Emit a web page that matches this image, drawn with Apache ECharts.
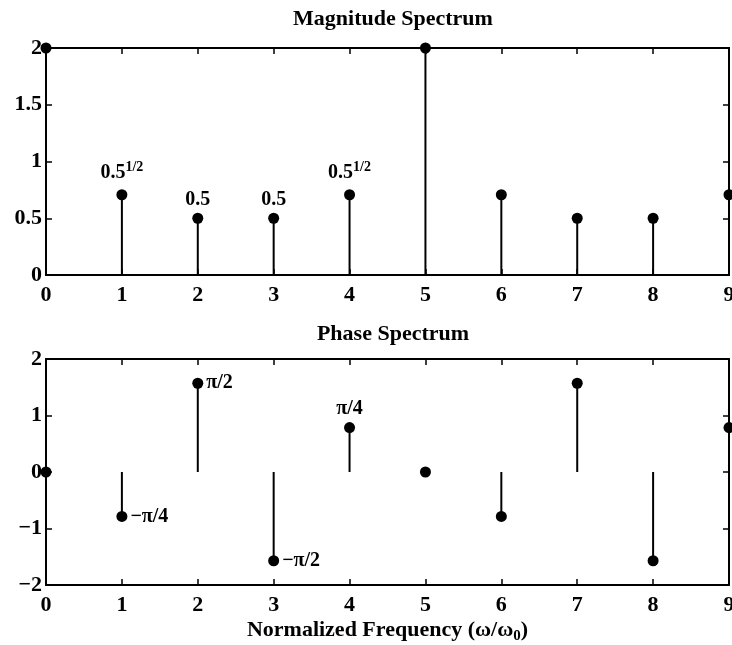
<!DOCTYPE html>
<html>
<head>
<meta charset="utf-8">
<script src="https://cdn.jsdelivr.net/npm/echarts@6/dist/echarts.min.js"></script>
<style>
html, body { margin: 0; padding: 0; background: #fff; }
#chart { width: 732px; height: 645px; }
</style>
</head>
<body>
<div id="chart"></div>
<script>
// data
var freq = [0, 1, 2, 3, 4, 5, 6, 7, 8, 9];
var magnitude = [2, 0.7071, 0.5, 0.5, 0.7071, 2, 0.7071, 0.5, 0.5, 0.7071];
var phase = [0, -0.7854, 1.5708, -1.5708, 0.7854, 0, -0.7854, 1.5708, -1.5708, 0.7854];
var magNotes = ['', '0.5^1/2', '0.5', '0.5', '0.5^1/2', '', '', '', '', ''];
var phaseNotes = ['', '\u2212\u03c0/4', '\u03c0/2', '\u2212\u03c0/2', '\u03c0/4', '', '', '', '', ''];
var freqTicks = ['0', '1', '2', '3', '4', '5', '6', '7', '8', '9'];
var magTicks = ['0', '0.5', '1', '1.5', '2'];
var phaseTicks = ['\u22122', '\u22121', '0', '1', '2'];

var FONT = 'Liberation Serif';
var INK = '#000';
var chart = echarts.init(document.getElementById('chart'));

function pairs(ys) {
    return freq.map(function (x, i) { return [x, ys[i]]; });
}

// stem line from 0 up (or down) to the value
function stem(gridIdx, ys) {
    return {
        type: 'custom',
        xAxisIndex: gridIdx * 2,
        yAxisIndex: gridIdx * 2,
        clip: false,
        silent: true,
        data: pairs(ys),
        renderItem: function (params, api) {
            var a = api.coord([api.value(0), 0]);
            var b = api.coord([api.value(0), api.value(1)]);
            return {
                type: 'line',
                shape: { x1: a[0], y1: a[1], x2: b[0], y2: b[1] },
                style: { stroke: INK, lineWidth: 2 }
            };
        }
    };
}

function heads(gridIdx, ys, notes, pos) {
    return {
        type: 'scatter',
        xAxisIndex: gridIdx * 2,
        yAxisIndex: gridIdx * 2,
        clip: false,
        symbol: 'circle',
        symbolSize: 11,
        itemStyle: { color: INK, opacity: 1 },
        data: pairs(ys).map(function (p, i) {
            var txt = notes[i];
            return {
                value: p,
                label: {
                    show: txt !== '',
                    position: pos[i] || 'top',
                    distance: 3,
                    formatter: txt.replace(/\^(.*)$/, '{sup|$1}'),
                    fontFamily: FONT,
                    fontSize: 20,
                    fontWeight: 'bold',
                    color: INK,
                    rich: {
                        sup: { fontFamily: FONT, fontSize: 14, fontWeight: 'bold', color: INK, padding: [0, 0, 12, 0] }
                    }
                }
            };
        })
    };
}

var tickStyle = { show: true, inside: true, length: 6, lineStyle: { color: INK, width: 1.5 } };

function xAx(gridIdx, position, labels, withName) {
    var ax = {
        type: 'value',
        gridIndex: gridIdx,
        position: position,
        min: 0, max: 9, interval: 1,
        axisLine: { show: false, onZero: false },
        axisTick: tickStyle,
        splitLine: { show: false },
        axisLabel: {
            show: !!labels,
            margin: 9,
            fontFamily: FONT, fontSize: 22, fontWeight: 'bold', color: INK,
            formatter: function (v) { return labels ? labels[Math.round(v)] : ''; }
        }
    };
    if (withName) {
        ax.name = 'Normalized Frequency (\u03c9/\u03c9{sub|0})';
        ax.nameLocation = 'middle';
        ax.nameGap = 32;
        ax.nameTextStyle = {
            fontFamily: FONT, fontSize: 22, fontWeight: 'bold', color: INK,
            rich: { sub: { fontFamily: FONT, fontSize: 15, fontWeight: 'bold', color: INK, padding: [12, 0, 0, 0] } }
        };
    }
    return ax;
}

function yAx(gridIdx, position, min, max, interval, labels) {
    return {
        type: 'value',
        gridIndex: gridIdx,
        position: position,
        min: min, max: max, interval: interval,
        axisLine: { show: false, onZero: false },
        axisTick: tickStyle,
        splitLine: { show: false },
        axisLabel: {
            show: !!labels,
            margin: 4,
            fontFamily: FONT, fontSize: 22, fontWeight: 'bold', color: INK,
            formatter: function (v) { return labels ? labels[Math.round((v - min) / interval)] : ''; }
        }
    };
}

var option = {
    backgroundColor: '#fff',
    animation: false,
    title: [
        { text: 'Magnitude Spectrum', left: 388, top: 3, textAlign: 'center',
          textStyle: { fontFamily: FONT, fontSize: 22, fontWeight: 'bold', color: INK } },
        { text: 'Phase Spectrum', left: 388, top: 318, textAlign: 'center',
          textStyle: { fontFamily: FONT, fontSize: 22, fontWeight: 'bold', color: INK } }
    ],
    grid: [
        { left: 46, width: 683, top: 48, height: 227, show: true, borderColor: INK, borderWidth: 2, outerBoundsMode: 'none' },
        { left: 46, width: 683, top: 359, height: 226, show: true, borderColor: INK, borderWidth: 2, outerBoundsMode: 'none' }
    ],
    xAxis: [
        xAx(0, 'bottom', freqTicks, false),
        xAx(0, 'top', null, false),
        xAx(1, 'bottom', freqTicks, true),
        xAx(1, 'top', null, false)
    ],
    yAxis: [
        yAx(0, 'left', 0, 2, 0.5, magTicks),
        yAx(0, 'right', 0, 2, 0.5, null),
        yAx(1, 'left', -2, 2, 1, phaseTicks),
        yAx(1, 'right', -2, 2, 1, null)
    ],
    series: [
        stem(0, magnitude),
        heads(0, magnitude, magNotes, {}),
        stem(1, phase),
        heads(1, phase, phaseNotes, { 1: 'right', 2: 'right', 3: 'right', 4: 'top' })
    ]
};

chart.setOption(option);
</script>
</body>
</html>
